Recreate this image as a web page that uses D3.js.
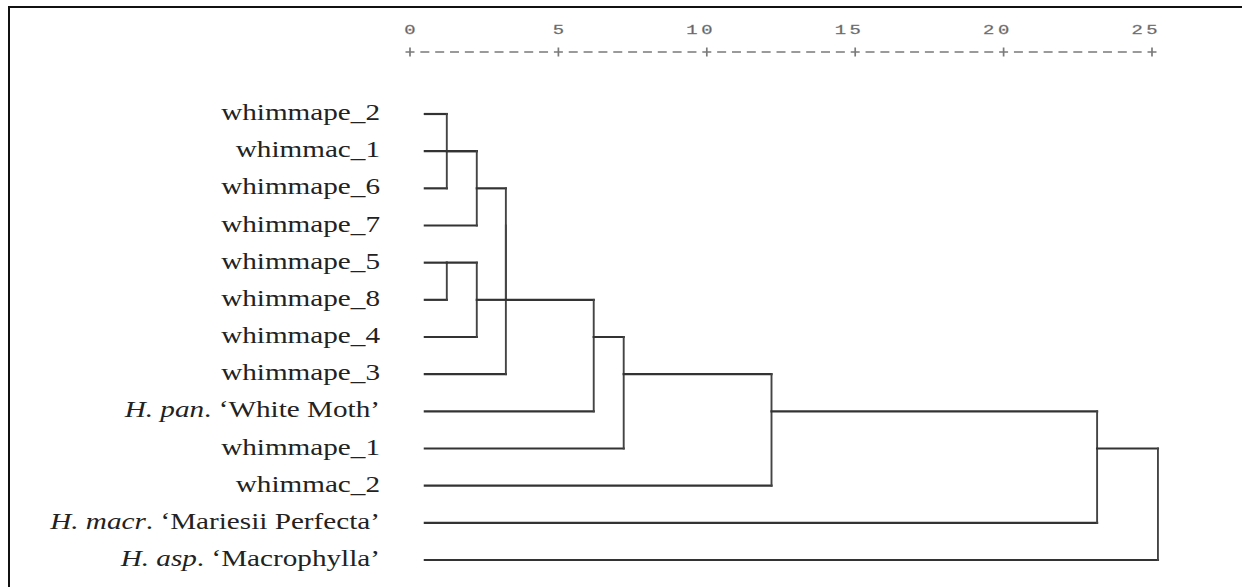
<!DOCTYPE html>
<html>
<head>
<meta charset="utf-8">
<script src="https://cdn.jsdelivr.net/npm/d3@7"></script>
<style>
  body { margin: 0; background: #fff; }
</style>
</head>
<body>
<div id="chart"></div>
<script>
// leaves, top to bottom
const leaves = [
  "whimmape_2", "whimmac_1", "whimmape_6", "whimmape_7", "whimmape_5",
  "whimmape_8", "whimmape_4", "whimmape_3", "H. pan. ‘White Moth’",
  "whimmape_1", "whimmac_2", "H. macr. ‘Mariesii Perfecta’", "H. asp. ‘Macrophylla’"
];
// agglomeration steps: number = leaf index, "mK" = result of step K
const mergeLeft   = [0, 4, "m0", "m2", "m1", "m3", "m5", "m6", "m7", "m8", "m9", "m10"];
const mergeRight  = [2, 5, 1, 3, 6, "m4", 7, 8, 9, 10, 11, 12];
const mergeHeight = [1.24, 1.24, 2.25, 2.25, 2.25, 3.23, 3.23, 6.19, 7.2, 12.18, 23.15, 25.2];
const tickValues  = [0, 5, 10, 15, 20, 25];

const W = 1242, H = 587;
const svg = d3.select("#chart").append("svg")
  .attr("width", W).attr("height", H);

// frame (only top + left edges visible)
svg.append("path")
  .attr("d", `M9,${H + 10}V7H${W + 10}`)
  .attr("fill", "none")
  .attr("stroke", "#111")
  .attr("stroke-width", 2);

const x = d3.scaleLinear().domain([0, 25]).range([410, 1152]);
const y = d3.scalePoint().domain(d3.range(leaves.length)).range([114, 560]);
const col = (x(5) - x(0)) / 10;      // one text column of the SPSS output
const leafStart = x(0) + col;
const stretch = 1.27;                // picture is stretched horizontally

// -------- rescaled distance axis (text-style) --------
const axisY = 52;
const dash = 9;
svg.append("line")
  .attr("x1", x(0) - dash / 2).attr("x2", x(25) + dash / 2)
  .attr("y1", axisY).attr("y2", axisY)
  .attr("stroke", "#7a7a7a")
  .attr("stroke-width", 1.7)
  .attr("stroke-dasharray", `${dash},${col - dash}`);

svg.append("g").selectAll("line")
  .data(tickValues)
  .enter().append("line")
  .attr("x1", d => x(d)).attr("x2", d => x(d))
  .attr("y1", axisY - 4.5).attr("y2", axisY + 4.5)
  .attr("stroke", "#7a7a7a")
  .attr("stroke-width", 1.7);

// each digit sits in its own column, last digit over the "+"
const chars = tickValues.flatMap(t => {
  const s = String(t);
  return s.split("").map((c, i) => ({ c, cx: x(t) - (s.length - 1 - i) * col }));
});
svg.append("g").selectAll("text")
  .data(chars)
  .enter().append("text")
  .attr("transform", d => `translate(${d.cx},34) scale(1.45,1)`)
  .attr("text-anchor", "middle")
  .style("font-family", "'Liberation Mono', 'DejaVu Sans Mono', monospace")
  .style("font-size", "13px")
  .style("fill", "#5e5e5e")
  .style("stroke", "#8a8a8a")
  .style("stroke-width", 0.3)
  .text(d => d.c);

// -------- tree layout from the merge table --------
const nodes = {};
leaves.forEach((name, i) => { nodes[i] = { row: i, px: leafStart }; });
const segs = [];
mergeHeight.forEach((h, k) => {
  const a = nodes[mergeLeft[k]], b = nodes[mergeRight[k]];
  const mx = x(h);
  segs.push({ x1: a.px, x2: mx, y1: y(a.row), y2: y(a.row), v: false });
  segs.push({ x1: b.px, x2: mx, y1: y(b.row), y2: y(b.row), v: false });
  segs.push({ x1: mx, x2: mx, y1: y(a.row), y2: y(b.row), v: true });
  nodes["m" + k] = { row: Math.floor((a.row + b.row) / 2), px: mx };
});

svg.append("g").selectAll("line")
  .data(segs.filter(s => s.x1 !== s.x2 || s.y1 !== s.y2))
  .enter().append("line")
  .attr("x1", d => d.x1).attr("x2", d => d.x2)
  .attr("y1", d => d.y1).attr("y2", d => d.y2)
  .attr("stroke", d => d.v ? "#444" : "#333")
  .attr("stroke-width", d => d.v ? 1.9 : 2.2)
  .attr("stroke-linecap", "square");

// -------- leaf labels --------
const lab = svg.append("g").selectAll("text")
  .data(leaves)
  .enter().append("text")
  .attr("transform", (d, i) => `translate(380,${y(i) + 6}) scale(${stretch},1)`)
  .attr("text-anchor", "end")
  .style("font-family", "'Liberation Serif', 'Times New Roman', serif")
  .style("font-size", "23px")
  .style("fill", "#222");

lab.each(function(d) {
  const el = d3.select(this);
  const m = d.match(/^(H\. \w+)(.*)$/);
  if (m) {
    el.append("tspan").style("font-style", "italic").text(m[1]);
    el.append("tspan").text(m[2]);
  } else {
    el.text(d);
  }
});
</script>
</body>
</html>
